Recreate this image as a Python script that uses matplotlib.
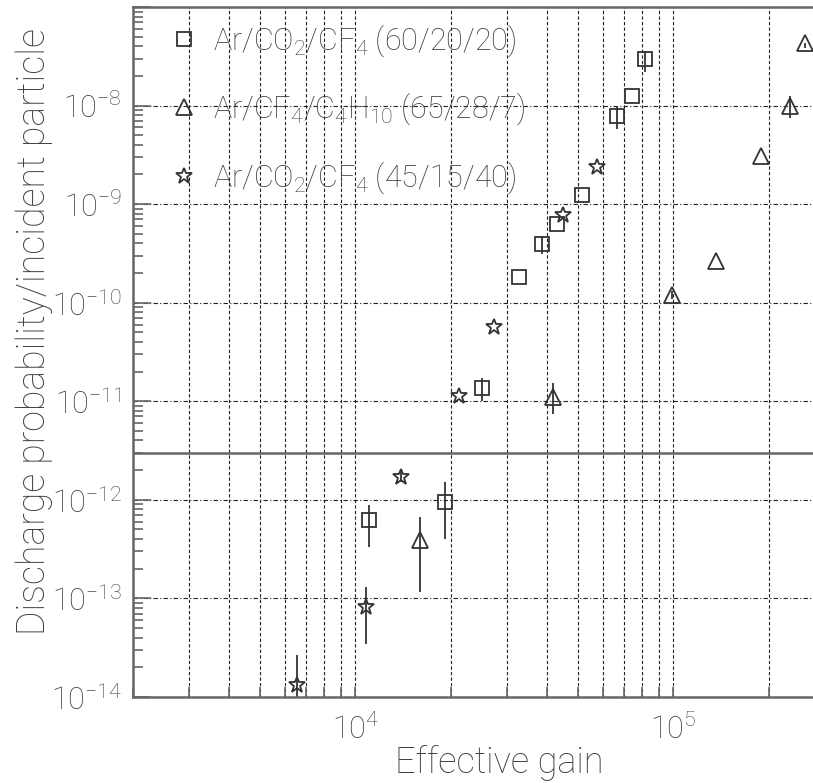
import matplotlib.pyplot as plt
import numpy as np
from matplotlib.ticker import LogLocator, FuncFormatter, NullFormatter

# Ar/CO2/CF4 (60/20/20)
sq_gain = [11070, 19200, 25100, 32800, 38700, 43100, 51800, 66700, 74300, 81600]
sq_prob = [6.2e-13, 9.6e-13, 1.35e-11, 1.82e-10, 3.95e-10, 6.3e-10, 1.24e-9, 7.9e-9, 1.26e-8, 2.94e-8]
sq_lo = [3.3e-13, 4.0e-13, 1.0e-11, 1.82e-10, 3.1e-10, 6.3e-10, 1.24e-9, 5.8e-9, 1.26e-8, 2.17e-8]
sq_hi = [8.9e-13, 1.5e-12, 1.71e-11, 1.82e-10, 4.76e-10, 6.3e-10, 1.24e-9, 9.8e-9, 1.26e-8, 3.6e-8]

# Ar/CF4/C4H10 (65/28/7)
tr_gain = [16000, 42000, 99300, 136000, 189000, 233000, 260000]
tr_prob = [3.94e-13, 1.1e-11, 1.19e-10, 2.65e-10, 3.1e-9, 1.0e-8, 4.28e-8]
tr_lo = [1.16e-13, 7.4e-12, 1.1e-10, 2.65e-10, 3.1e-9, 7.55e-9, 3.8e-8]
tr_hi = [6.7e-13, 1.52e-11, 1.3e-10, 2.65e-10, 3.1e-9, 1.26e-8, 4.28e-8]

# Ar/CO2/CF4 (45/15/40)
st_gain = [6580, 10800, 13900, 21200, 27400, 45100, 57700]
st_prob = [1.32e-14, 8.2e-14, 1.72e-12, 1.12e-11, 5.65e-11, 7.8e-10, 2.39e-9]
st_lo = [1.0e-14, 3.4e-14, 1.5e-12, 1.12e-11, 5.65e-11, 7.8e-10, 2.39e-9]
st_hi = [2.66e-14, 1.31e-13, 1.95e-12, 1.12e-11, 5.65e-11, 7.8e-10, 2.39e-9]

labels = [r"Ar/CO$_2$/CF$_4$ (60/20/20)",
          r"Ar/CF$_4$/C$_4$H$_{10}$ (65/28/7)",
          r"Ar/CO$_2$/CF$_4$ (45/15/40)"]

plt.rcParams['font.family'] = ['Roboto', 'DejaVu Sans']
plt.rcParams['font.weight'] = 'light'
plt.rcParams['mathtext.fontset'] = 'custom'
plt.rcParams['mathtext.rm'] = 'Roboto:light'
plt.rcParams['mathtext.it'] = 'Roboto:light'
plt.rcParams['mathtext.default'] = 'rm'

ink = '#333333'
txt = '#404040'

fig = plt.figure(figsize=(8.13, 7.83), dpi=100)
ax = fig.add_axes([0.1636, 0.110, 0.8364, 0.881])
ax.set_xscale('log')
ax.set_yscale('log')
ax.set_xlim(2000, 2.75e5)
ax.set_ylim(1e-14, 1e-7)

series = [(sq_gain, sq_prob, sq_lo, sq_hi, 's', 10),
          (tr_gain, tr_prob, tr_lo, tr_hi, '^', 11),
          (st_gain, st_prob, st_lo, st_hi, '*', 12)]
for (g, p, lo, hi, m, ms), lab in zip(series, labels):
    g = np.array(g); p = np.array(p)
    err = [p - np.array(lo), np.array(hi) - p]
    ax.errorbar(g, p, yerr=err, fmt='none', ecolor=ink, elinewidth=1.3, capsize=0)
    ax.plot(g, p, m, ms=ms, mfc='none', mec=ink, mew=1.3, ls='none', label=lab)

# horizontal line splitting the two regions
ax.axhline(3e-12, color='#666666', lw=1.8)

ax.grid(axis='x', which='both', color='#222222', lw=0.8, ls=(0, (3, 2)))
ax.grid(axis='y', which='major', color='#222222', lw=0.8, ls=(0, (4, 2, 1, 2)))

ax.xaxis.set_major_locator(LogLocator(base=10))
ax.xaxis.set_minor_locator(LogLocator(base=10, subs=np.arange(2, 10)))
ax.xaxis.set_minor_formatter(NullFormatter())
ax.yaxis.set_major_locator(LogLocator(base=10, numticks=20))
ax.yaxis.set_minor_locator(LogLocator(base=10, subs=np.arange(2, 10), numticks=20))
ax.yaxis.set_minor_formatter(NullFormatter())


def pow_label(v, pos):
    e = int(round(np.log10(v)))
    if e == -7:
        return ""
    return r"$10^{%d}$" % e


fmt = FuncFormatter(pow_label)
ax.xaxis.set_major_formatter(fmt)
ax.yaxis.set_major_formatter(fmt)

ax.tick_params(axis='both', which='both', direction='in', colors='#666666',
               labelcolor=txt, labelsize=22, width=1.2)
ax.tick_params(axis='y', which='major', length=13, pad=8)
ax.tick_params(axis='y', which='minor', length=7)
ax.tick_params(axis='x', which='both', length=7, pad=12)

for s in ['left', 'bottom', 'top']:
    ax.spines[s].set_color('#666666')
    ax.spines[s].set_linewidth(1.8)
ax.spines['right'].set_visible(False)

ax.set_ylabel('Discharge probability/incident particle', fontsize=27,
              color=txt, fontweight='light')
ax.yaxis.set_label_coords(-0.118, 0.53)
ax.set_xlabel('Effective gain', fontsize=26, color=txt, fontweight='light')
ax.xaxis.set_label_coords(0.538, -0.07)

ax.legend(loc='upper left', bbox_to_anchor=(0.03, 1.0), frameon=False,
          fontsize=22, labelcolor=txt, handletextpad=0.45, labelspacing=1.05,
          borderaxespad=0.1, handlelength=1.0)

fig.savefig('out.png', dpi=100)
